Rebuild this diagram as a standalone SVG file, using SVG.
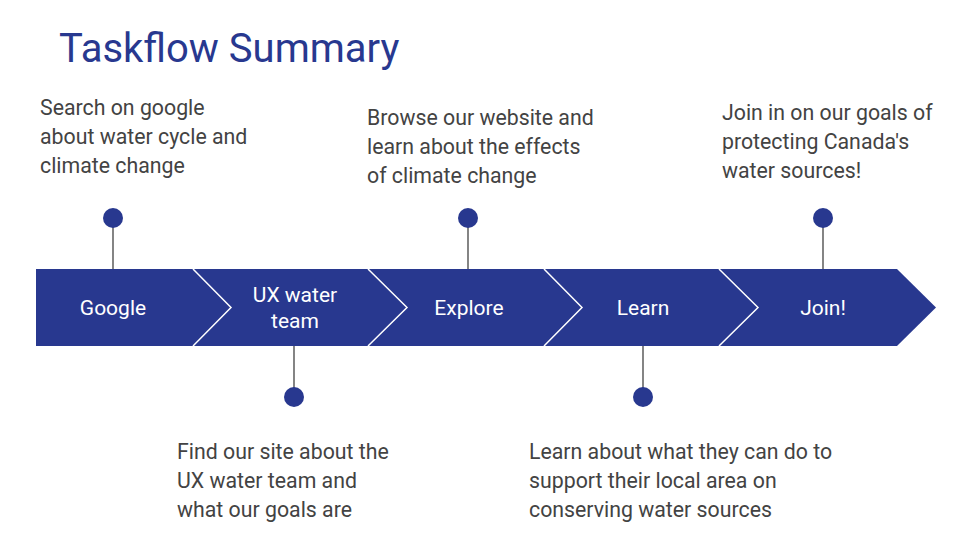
<svg xmlns="http://www.w3.org/2000/svg" width="960" height="540" viewBox="0 0 960 540">
<style>
.t{font-family:Roboto,"Liberation Sans",sans-serif;font-size:21.3px;fill:#434343}
.b{font-family:Roboto,"Liberation Sans",sans-serif;font-size:21px;fill:#ffffff;text-anchor:middle}
.title{font-family:Roboto,"Liberation Sans",sans-serif;font-size:40px;fill:#28388f}
.dot{fill:#28388f}
.ln{stroke:#333333;stroke-width:1.2;fill:none}
.sep{stroke:#ffffff;stroke-width:1.5;fill:none}
</style>
<rect width="960" height="540" fill="#ffffff"/>
<text class="title" x="59" y="62">Taskflow Summary</text>
<g id="connectors">
<line class="ln" x1="113" y1="218" x2="113" y2="269"/>
<line class="ln" x1="294" y1="346" x2="294" y2="397"/>
<line class="ln" x1="468" y1="218" x2="468" y2="269"/>
<line class="ln" x1="643" y1="346" x2="643" y2="397"/>
<line class="ln" x1="823" y1="218" x2="823" y2="269"/>
</g>
<g id="band">
<polygon fill="#28388f" points="36,269 897,269 936,307.5 897,346 36,346"/>
<polyline class="sep" points="193,269 231,307.5 193,346"/>
<polyline class="sep" points="368,269 407,307.5 368,346"/>
<polyline class="sep" points="544,269 582,307.5 544,346"/>
<polyline class="sep" points="719,269 758,307.5 719,346"/>
</g>
<g id="google"><text class="b" x="113" y="315">Google</text>
<circle class="dot" cx="113" cy="218" r="10"/>
<text class="t" x="40" y="115">Search on google</text>
<text class="t" x="40" y="144">about water cycle and</text>
<text class="t" x="40" y="173">climate change</text></g>
<g id="ux"><text class="b" x="295" y="302">UX water</text><text class="b" x="295" y="328">team</text>
<circle class="dot" cx="294" cy="397" r="10"/>
<text class="t" x="177" y="459">Find our site about the</text>
<text class="t" x="177" y="488">UX water team and</text>
<text class="t" x="177" y="517">what our goals are</text></g>
<g id="explore"><text class="b" x="469" y="315">Explore</text>
<circle class="dot" cx="468" cy="218" r="10"/>
<text class="t" x="367" y="125">Browse our website and</text>
<text class="t" x="367" y="154">learn about the effects</text>
<text class="t" x="367" y="183">of climate change</text></g>
<g id="learn"><text class="b" x="643" y="315">Learn</text>
<circle class="dot" cx="643" cy="397" r="10"/>
<text class="t" x="529" y="459">Learn about what they can do to</text>
<text class="t" x="529" y="488">support their local area on</text>
<text class="t" x="529" y="517">conserving water sources</text></g>
<g id="join"><text class="b" x="823" y="315">Join!</text>
<circle class="dot" cx="823" cy="218" r="10"/>
<text class="t" x="722" y="120">Join in on our goals of</text>
<text class="t" x="722" y="149">protecting Canada's</text>
<text class="t" x="722" y="178">water sources!</text></g>
</svg>
